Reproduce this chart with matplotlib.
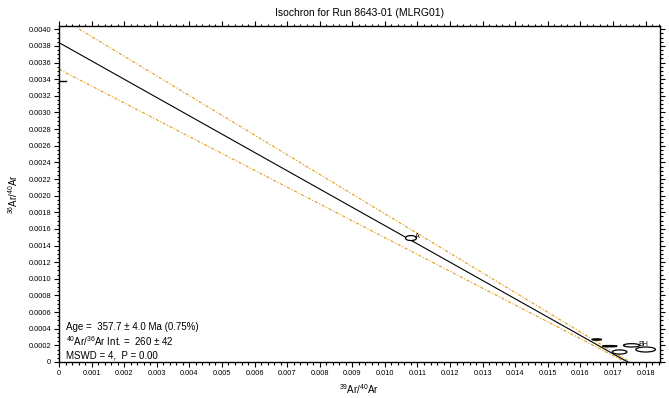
"""
Isochron plot for Run 8643-01 (MLRG01), 36Ar/40Ar vs 39Ar/40Ar
"""
import matplotlib
matplotlib.use("Agg")
import matplotlib.pyplot as plt
from matplotlib.patches import Ellipse
from matplotlib.ticker import MultipleLocator, FuncFormatter

plt.rcParams['font.family'] = ['Liberation Sans', 'DejaVu Sans']
plt.rcParams['mathtext.fontset'] = 'custom'
plt.rcParams['mathtext.rm'] = 'Liberation Sans'
plt.rcParams['mathtext.it'] = 'Liberation Sans:italic'

# 等時線 (intercepts on both axes)
line_y_int = 0.00384
line_x_int = 0.01745
# 誤差包絡線
env_upper_y_int = 0.00415
env_upper_x_int = 0.01752
env_lower_y_int = 0.00352
env_lower_x_int = 0.01738
# 大氣比值 1/295.5
atm_ratio = 0.003384

# 誤差橢圓 (step data)
ell_x = [0.0108, 0.01650, 0.01690, 0.01720, 0.01757, 0.01800]
ell_y = [0.00149, 0.00027, 0.00019, 0.00012, 0.00020, 0.00015]
ell_w = [0.00034, 0.00030, 0.00045, 0.00045, 0.00050, 0.00060]
ell_h = [0.00006, 0.000016, 0.000016, 0.00005, 0.00004, 0.00006]
ell_filled = [False, True, True, False, False, False]
ell_labels = ['A', '', '', '', 'BH', '']

title = 'Isochron for Run 8643-01 (MLRG01)'
stats_lines = ['Age =  357.7 \u00b1 4.0 Ma (0.75%)',
               '$^{40}$Ar/$^{36}$Ar Int. =  260 \u00b1 42',
               'MSWD = 4,  P = 0.00']

fig = plt.figure(figsize=(6.69, 3.98), dpi=100)
ax = fig.add_axes([0.0882, 0.0905, 0.8983, 0.8442])

# 誤差包絡線
env_color = '#E0A020'
ax.plot([0, env_upper_x_int], [env_upper_y_int, 0], color=env_color,
        lw=0.8, dashes=(3, 1.5, 1, 1.5), zorder=2)
ax.plot([0, env_lower_x_int], [env_lower_y_int, 0], color=env_color,
        lw=0.8, dashes=(3, 1.5, 1, 1.5), zorder=2)

# 等時線
ax.plot([0, line_x_int], [line_y_int, 0], color='black', lw=0.8, zorder=3)

# 大氣比值標記
ax.plot([0, 0.00022], [atm_ratio, atm_ratio], color='black', lw=1.0,
        clip_on=False, zorder=4)

# 誤差橢圓
for x, y, w, h, filled, lab in zip(ell_x, ell_y, ell_w, ell_h, ell_filled, ell_labels):
    e = Ellipse((x, y), w, h, facecolor='black' if filled else 'white',
                edgecolor='black', lw=0.9, zorder=5)
    ax.add_patch(e)
    if lab:
        ax.text(x + w * 0.4, y + h * 0.4, lab, fontsize=5, ha='left',
                va='center', zorder=6)

ax.set_xlim(0, 0.01844)
ax.set_ylim(0, 0.00404)

ax.xaxis.set_major_locator(MultipleLocator(0.001))
ax.xaxis.set_minor_locator(MultipleLocator(0.0002))
ax.yaxis.set_major_locator(MultipleLocator(0.0002))
ax.yaxis.set_minor_locator(MultipleLocator(0.00005))
ax.xaxis.set_major_formatter(FuncFormatter(lambda v, p: '0' if abs(v) < 1e-12 else f'{v:.3f}'))
ax.yaxis.set_major_formatter(FuncFormatter(lambda v, p: '0' if abs(v) < 1e-12 else f'{v:.4f}'))

ax.tick_params(which='both', direction='out', top=True, right=True,
               labeltop=False, labelright=False, width=0.8, labelsize=5.3)
ax.tick_params(which='major', length=3.5, pad=2)
ax.tick_params(which='minor', length=1.8)
for sp in ax.spines.values():
    sp.set_linewidth(1.0)

ax.set_xlabel(r'$^{39}$Ar/$^{40}$Ar', fontsize=7, labelpad=4)
ax.set_ylabel(r'$^{36}$Ar/$^{40}$Ar', fontsize=7, labelpad=6)
ax.set_title(title, fontsize=7.5, pad=7)

ys = [0.104, 0.062, 0.020]
for yy, s in zip(ys, stats_lines):
    ax.text(0.011, yy, s, transform=ax.transAxes, fontsize=7, ha='left',
            va='center', zorder=7)

fig.savefig('out.png', dpi=100)
plt.close(fig)
